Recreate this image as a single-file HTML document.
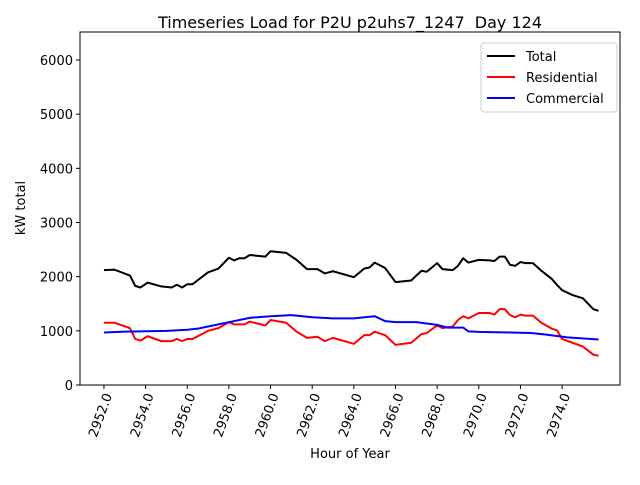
<!DOCTYPE html>
<html><head><meta charset="utf-8"><style>
body{margin:0;background:#fff}
svg{font-family:"DejaVu Sans","Liberation Sans",sans-serif}
</style></head><body>
<svg id="chart" width="640" height="480">
<rect width="640" height="480" fill="#fff"/>
<text x="350" y="28" font-size="16" text-anchor="middle">Timeseries Load for P2U p2uhs7_1247&#160; Day 124</text>
<g id="plot"></g>
<text x="350" y="458" font-size="13" text-anchor="middle">Hour of Year</text>
<text transform="translate(25,208) rotate(-90)" font-size="13" text-anchor="middle">kW total</text>
</svg>
<script>
const hours=[2952,2952.5,2953.25,2953.5,2953.75,2954.1,2954.75,2955.25,2955.5,2955.75,2956,2956.25,2957,2957.5,2958,2958.25,2958.5,2958.75,2959,2959.75,2960,2960.75,2961.25,2961.75,2962.25,2962.6,2963,2964,2964.5,2964.75,2965,2965.5,2966,2966.75,2967.25,2967.5,2968,2968.25,2968.75,2969,2969.25,2969.5,2970,2970.5,2970.75,2971,2971.25,2971.5,2971.75,2972,2972.25,2972.6,2973,2973.5,2973.75,2974,2974.5,2975,2975.5,2975.75];
const totalVals=[2120,2130,2020,1830,1800,1890,1820,1800,1850,1800,1860,1860,2080,2150,2350,2300,2340,2340,2400,2370,2470,2440,2310,2140,2140,2060,2100,1990,2150,2170,2260,2160,1900,1930,2110,2090,2250,2140,2120,2200,2340,2260,2310,2300,2290,2370,2370,2220,2200,2270,2250,2250,2110,1960,1850,1750,1660,1600,1400,1370];
const resVals=[1150,1150,1050,850,820,900,810,810,850,810,850,850,1000,1050,1160,1120,1120,1120,1170,1100,1200,1150,985,870,890,810,870,760,920,920,985,920,740,780,940,960,1100,1050,1080,1200,1270,1230,1330,1330,1300,1400,1400,1290,1250,1300,1280,1280,1150,1040,1010,850,780,710,560,540];
const comHours=[2952,2953,2955,2956,2956.5,2957,2958,2959,2960,2961,2962,2963,2964,2965,2965.5,2966,2967,2968,2968.5,2969.25,2969.5,2970,2971.5,2972.5,2973.25,2974.25,2975.75];
const comVals=[970,985,1000,1020,1040,1080,1160,1240,1270,1290,1250,1230,1230,1270,1180,1160,1160,1110,1060,1060,990,980,970,960,930,880,840];
const xTicks=[2952,2954,2956,2958,2960,2962,2964,2966,2968,2970,2972,2974];
const yTicks=[0,1000,2000,3000,4000,5000,6000];
const L=80,R=620,T=32,B=385,xMin=2950.85,xMax=2976.78,yMax=6517;
const sx=h=>L+(h-xMin)/(xMax-xMin)*(R-L);
const sy=v=>B-v/yMax*(B-T);
const NS="http://www.w3.org/2000/svg";
const g=document.getElementById('plot');
function mk(t,a,p){const e=document.createElementNS(NS,t);for(const k in a)e.setAttribute(k,a[k]);(p||g).appendChild(e);return e;}
const frame=mk('rect',{x:L,y:T,width:R-L,height:B-T,fill:'none',stroke:'#000','stroke-width':1});


xTicks.forEach(t=>{const x=sx(t);
 const l=mk('line',{x1:x,x2:x,y1:B,y2:B+4,stroke:'#000'});
 
 
 const tx=mk('text',{transform:`translate(${x+5},${B+9}) rotate(-70)`,'font-size':13,'text-anchor':'end','dominant-baseline':'central'});
 tx.textContent=t.toFixed(1);
 
 
});
yTicks.forEach(t=>{const y=sy(t);
 const l=mk('line',{x1:L-4,x2:L,y1:y,y2:y,stroke:'#000'});
 
 
 const tx=mk('text',{x:L-7,y:y+5,'font-size':13,'text-anchor':'end'});
 tx.textContent=t;
 
 
});
function line(xs,vs,c,name){const p=mk('polyline',{points:xs.map((h,i)=>sx(h)+','+sy(vs[i])).join(' '),fill:'none',stroke:c,'stroke-width':2,'stroke-linejoin':'round'});
 
 }
line(hours,totalVals,'#000','total-line');
line(hours,resVals,'#f00','residential-line');
line(comHours,comVals,'#00f','commercial-line');
const lg=mk('g',{});


mk('rect',{x:481,y:43,width:136,height:69,rx:3,fill:'#fff',stroke:'#ccc'},lg);
[['Total','#000'],['Residential','#f00'],['Commercial','#00f']].forEach((e,i)=>{const y=56+i*21;
 const it=mk('g',{},lg);
 
 
 mk('line',{x1:487,x2:515,y1:y,y2:y,stroke:e[1],'stroke-width':2},it);
 const t=mk('text',{x:526,y:y+5,'font-size':13},it);t.textContent=e[0];});
</script>
</body></html>
